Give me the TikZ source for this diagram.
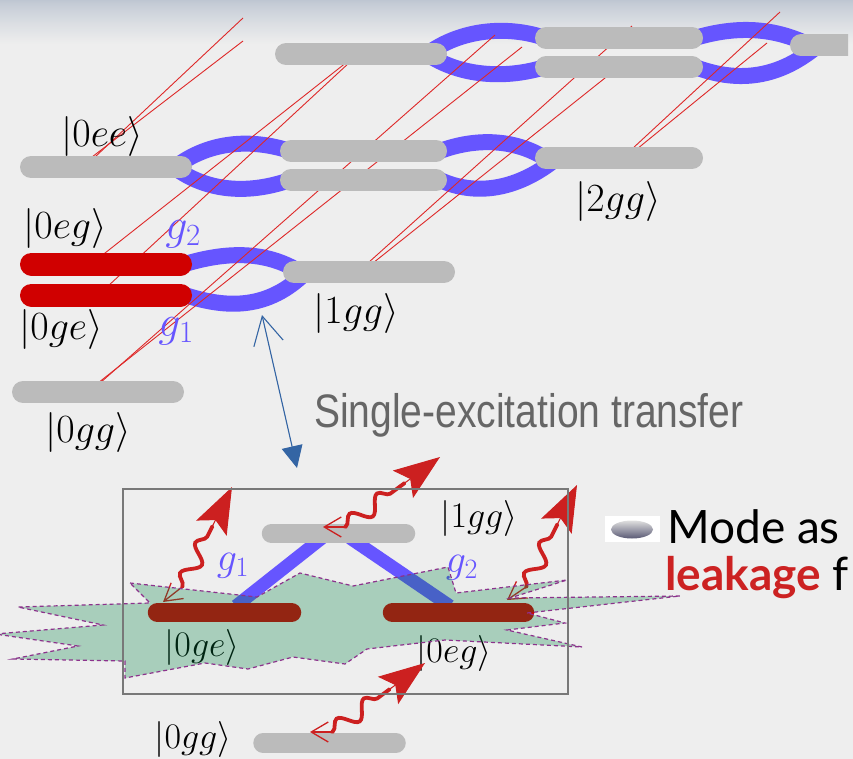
\RequirePackage{fix-cm}
\documentclass[tikz,border=0pt]{standalone}
\usepackage{fontspec}
\usetikzlibrary{arrows.meta,decorations.pathmorphing,calc}

\newfontfamily\narrowsans{Liberation Sans}[FakeStretch=0.83]
\newfontfamily\latofont{Lato}

\definecolor{bgMain}{RGB}{238,238,238}
\definecolor{bgTop}{RGB}{190,198,210}
\definecolor{barGray}{RGB}{187,187,187}
\definecolor{levelRed}{RGB}{208,0,0}
\definecolor{couple}{RGB}{102,85,255}
\definecolor{rungRed}{RGB}{222,40,40}
\definecolor{waveRed}{RGB}{204,32,32}
\definecolor{xferBlue}{RGB}{52,101,164}
\definecolor{textGray}{RGB}{102,102,102}
\definecolor{leakRed}{RGB}{204,34,34}
\definecolor{bathGreen}{RGB}{0,128,64}
\definecolor{bathEdge}{RGB}{140,50,140}
\definecolor{frameGray}{RGB}{120,120,120}

\begin{document}
\begin{tikzpicture}[x=1pt,y=-1pt,
  graylevel/.style={draw=barGray,line width=22pt,line cap=round},
  redlevel/.style={draw=levelRed,line width=23pt,line cap=round},
  smallgray/.style={draw=barGray,line width=19.5pt,line cap=round},
  smallred/.style={draw=levelRed,line width=19.5pt,line cap=round},
  coupling/.style={draw=couple,line width=16pt},
  rung/.style={draw=rungRed,line width=0.9pt},
  ket/.style={inner sep=0pt,font=\fontsize{40}{48}\selectfont},
  smallket/.style={inner sep=0pt,font=\fontsize{36}{43}\selectfont},
  glabel/.style={inner sep=0pt,text=couple,font=\fontsize{44}{52}\selectfont},
  smallglabel/.style={inner sep=0pt,text=couple,font=\fontsize{40}{48}\selectfont},
  barb/.style={draw=waveRed,line width=1.3pt,-{Straight Barb[length=17pt,width=20pt]}},
  photonwave/.style={draw=waveRed,line width=3.8pt,line cap=round,decorate,
    decoration={snake,amplitude=8pt,segment length=34pt,pre length=1pt,post length=1pt}},
  photonhead/.style={draw=waveRed,fill=waveRed,line width=1pt,
    -{Stealth[length=46pt,width=34pt,inset=9pt]}},
  bath/.style={fill=bathGreen,fill opacity=0.29,draw=bathEdge,line width=1.2pt,
    dash pattern=on 4pt off 3pt}
]
\useasboundingbox (0,0) rectangle (853,759);

% slide background with a soft band at the top
\fill[bgMain] (0,0) rectangle (853,759);
\foreach \i in {0,...,44}{
  \pgfmathsetmacro\p{100*(\i/44)^0.8}
  \fill[bgMain!\p!bgTop] (0,\i) rectangle (853,\i+1.2);
}

% ---------------- dressed-state ladder ----------------
\begin{scope}
\clip (0,0) rectangle (848,759);

% level end points
\coordinate (T1w) at (286,54);   \coordinate (T1e) at (436,54);
\coordinate (T2uw) at (546,38);  \coordinate (T2ue) at (692,38);
\coordinate (T2lw) at (546,67);  \coordinate (T2le) at (692,67);
\coordinate (T3w) at (801,45.5); \coordinate (T3e) at (880,45.5);
\coordinate (M1w) at (31,167);   \coordinate (M1e) at (181,167);
\coordinate (M2uw) at (291,151); \coordinate (M2ue) at (436,151);
\coordinate (M2lw) at (291,180); \coordinate (M2le) at (436,180);
\coordinate (M3w) at (546,158);  \coordinate (M3e) at (692,158);
\coordinate (B1uw) at (31.5,264);\coordinate (B1ue) at (180.5,264);
\coordinate (B1lw) at (31.5,295);\coordinate (B1le) at (180.5,295);
\coordinate (B2w) at (294,272);  \coordinate (B2e) at (444,272);
\coordinate (G0w) at (23,392);   \coordinate (G0e) at (173,392);

% coupling lenses
\draw[coupling] (430,52) .. controls (465,28) and (510,26) .. (545,38);
\draw[coupling] (430,56) .. controls (465,78) and (510,78) .. (545,67);
\draw[coupling] (695,38) .. controls (735,26) and (775,26) .. (815,48);
\draw[coupling] (695,67) .. controls (735,82) and (775,80) .. (815,48);
\draw[coupling] (178,165) .. controls (210,142) and (250,138) .. (290,151);
\draw[coupling] (178,170) .. controls (210,192) and (250,194) .. (290,180);
\draw[coupling] (440,151) .. controls (475,138) and (515,138) .. (548,160);
\draw[coupling] (440,180) .. controls (475,196) and (515,190) .. (552,162);
\draw[coupling] (185,264) .. controls (225,252) and (265,250) .. (300,272);
\draw[coupling] (185,295) .. controls (225,308) and (265,310) .. (302,276);

% perspective guide lines between the ladder planes
\coordinate (a1t) at (243,18);  \coordinate (a1b) at (95,157);
\coordinate (a2t) at (243,41);  \coordinate (a2b) at (92,157);
\coordinate (b1t) at (347,62);  \coordinate (b1b) at (100,257);
\coordinate (b2t) at (350,62);  \coordinate (b2b) at (107,287);
\coordinate (c1t) at (495,35);  \coordinate (c1b) at (100,383);
\coordinate (c2t) at (522,47);  \coordinate (c2b) at (98,383);
\coordinate (d1t) at (632,26);  \coordinate (d1b) at (368,263);
\coordinate (d2t) at (610,74);  \coordinate (d2b) at (373,263);
\coordinate (e1t) at (780,12);  \coordinate (e1b) at (632,149);
\coordinate (e2t) at (767,43);  \coordinate (e2b) at (637,149);
\foreach \r in {a1,a2,b1,b2,c1,c2,d1,d2,e1,e2}{
  \draw[rung] (\r t) -- (\r b);
}

% levels
\draw[graylevel] (T1w) -- (T1e);
\draw[graylevel] (T2uw) -- (T2ue);
\draw[graylevel] (T2lw) -- (T2le);
\draw[graylevel] (T3w) -- (T3e);
\draw[graylevel] (M1w) -- (M1e);
\draw[graylevel] (M2uw) -- (M2ue);
\draw[graylevel] (M2lw) -- (M2le);
\draw[graylevel] (M3w) -- (M3e);
\draw[redlevel] (B1uw) -- (B1ue);
\draw[redlevel] (B1lw) -- (B1le);
\draw[graylevel] (B2w) -- (B2e);
\draw[graylevel] (G0w) -- (G0e);
\end{scope}

% ladder labels
\node[ket] (k0ee) at (102,137) {$|0ee\rangle$};
\node[ket] (k0eg) at (65,229) {$|0eg\rangle$};
\node[ket] (k0ge) at (61,329) {$|0ge\rangle$};
\node[ket] (k0gg) at (88,432) {$|0gg\rangle$};
\node[ket] (k1gg) at (356,313) {$|1gg\rangle$};
\node[ket] (k2gg) at (618,202) {$|2gg\rangle$};
\node[glabel] (g2top) at (183,234) {$g_2$};
\node[glabel] (g1top) at (176,331) {$g_1$};

% transfer arrow and caption
\coordinate (xferA) at (262,315);
\coordinate (xferB) at (297,468);
\draw[draw=xferBlue,fill=xferBlue,line width=1.1pt,
  {Straight Barb[length=28pt,width=30pt,fill=none]}-{Triangle[length=22pt,width=21pt]}]
  (xferA) -- (xferB);
\node[anchor=base west,inner sep=0pt,text=textGray,
  font=\narrowsans\fontsize{47}{56}\selectfont] (caption) at (314,427)
  {Single-excitation transfer};

% ---------------- single-excitation subspace with a bath ----------------
\coordinate (E1w) at (271.5,533.5); \coordinate (E1e) at (405.5,533.5);
\coordinate (Lw) at (157.5,612.5);  \coordinate (Le) at (291.5,612.5);
\coordinate (Rw) at (392.5,612.5);  \coordinate (Re) at (524.5,612.5);
\coordinate (G1w) at (263,743);     \coordinate (G1e) at (396,743);

\draw[couple,line width=13pt] (322,538) -- (236,606);
\draw[couple,line width=13pt] (350,538) -- (450,606);
\draw[smallgray] (E1w) -- (E1e);
\draw[smallred] (Lw) -- (Le);
\draw[smallred] (Rw) -- (Re);
\draw[smallgray] (G1w) -- (G1e);

\node[smallket] (s1gg) at (479,518) {$|1gg\rangle$};
\node[smallket] (s0ge) at (202,647) {$|0ge\rangle$};
\node[smallket] (s0eg) at (454,653) {$|0eg\rangle$};
\node[smallket] (s0gg) at (193,739) {$|0gg\rangle$};
\node[smallglabel] (sg1) at (233,566) {$g_1$};
\node[smallglabel] (sg2) at (462,568) {$g_2$};

% emitted photons: small barb at the emitter, wavy body, large head
\coordinate (p1t) at (163,602); \coordinate (p1b) at (182,587); \coordinate (p1h) at (232,487);
\coordinate (p2t) at (323,527); \coordinate (p2b) at (345,527); \coordinate (p2h) at (440,457);
\coordinate (p3t) at (507,600); \coordinate (p3b) at (526,587); \coordinate (p3h) at (577,485);
\coordinate (p4t) at (310,732); \coordinate (p4b) at (332,732); \coordinate (p4h) at (425,663);
\foreach \p in {p1,p2,p3,p4}{
  \draw[barb] (\p b) -- (\p t);
  \coordinate (\p n) at ($(\p h)!44pt!(\p b)$);
  \draw[photonwave] (\p b) -- (\p n);
  \draw[photonhead] ($(\p h)!47pt!(\p b)$) -- (\p h);
}

% bath
\path[bath] (130,583) -- (257,597) -- (300,573) -- (353,586) -- (448,567)
  -- (456,593) -- (567,580) -- (510,598) -- (680,596) -- (527,613)
  -- (565,623) -- (507,630) -- (582,647) -- (445,640) -- (367,649)
  -- (345,664) -- (293,657) -- (248,669) -- (205,663) -- (125,678) -- (125,661)
  -- (13,659) -- (78,646) -- (-5,634) -- (103,625) -- (18,607)
  -- (150,603) -- cycle;

\draw[frameGray,line width=1.2pt] (123,489) rectangle (568,694);

% bullet point
\fill[white] (605,516) rectangle (660,542);
\shade[top color=gray!25!white,bottom color=black!65!blue!30!gray] (632,529.5) ellipse (21pt and 9pt);
\node[anchor=base west,inner sep=0pt,font=\latofont\fontsize{46}{55}\selectfont] (mode) at (667,543) {Mode as};
\node[anchor=base west,inner sep=0pt,font=\latofont\fontsize{46}{55}\selectfont] (leak) at (665,590)
  {\textcolor{leakRed}{\bfseries leakage} f};
\end{tikzpicture}
\end{document}
